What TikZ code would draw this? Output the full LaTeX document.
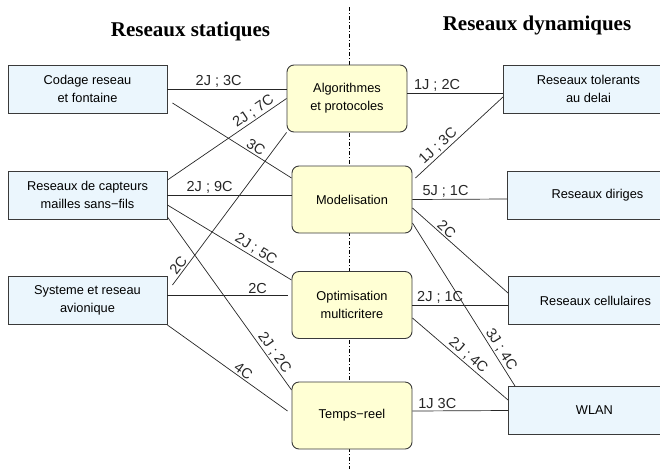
\documentclass[tikz,border=0pt]{standalone}
\usepackage{fontspec}
\setmainfont{Liberation Serif}
\setsansfont{Liberation Sans}
\usepackage{tikz}
\usetikzlibrary{
  positioning,
  calc,
}
\definecolor{netBlue}{HTML}{EBF6FD}
\definecolor{topicYellow}{HTML}{FFFFD4}
\definecolor{frameGray}{HTML}{3A3A3A}

\begin{document}
\begin{tikzpicture}[x=1pt, y=-1pt,
  netbox/.style={draw=frameGray, fill=netBlue, line width=0.9pt,
    minimum width=159pt, minimum height=48pt, inner sep=0pt,
    align=center, font=\sffamily\fontsize{12.8}{18}\selectfont},
  topic/.style={draw=frameGray, fill=topicYellow, line width=0.9pt,
    rounded corners=7pt, minimum width=120pt, minimum height=67pt,
    inner sep=0pt, align=center, font=\sffamily\fontsize{12.8}{18}\selectfont},
  link/.style={black!85, line width=0.7pt},
  lbl/.style={font=\sffamily\fontsize{14.5}{16}\selectfont, inner sep=1.5pt},
  title/.style={font=\bfseries\fontsize{21}{24}\selectfont, anchor=base},
]
  \useasboundingbox (0,0) rectangle (660,469);
  \clip (0,0) rectangle (660,469);

  % separator between the two sides
  \coordinate (sepTop) at (349,7);
  \coordinate (sepBot) at (349,469);
  \draw[line width=0.7pt, dash pattern=on 4pt off 2pt on 1pt off 2pt] (sepTop) -- (sepBot);

  \node[title] (statT) at (190.5,36) {Reseaux statiques};
  \node[title] (dynT) at (537,30) {Reseaux dynamiques};

  % static networks
  \node[netbox] (cod) at (87.5,89) {Codage reseau\\et fontaine};
  \node[netbox] (cap) at (87.5,195) {Reseaux de capteurs\\mailles sans−fils};
  \node[netbox] (sys) at (87.5,300) {Systeme et reseau\\avionique};

  % topics
  \node[topic] (alg) at (347,98.5) {Algorithmes\\et protocoles};
  \node[topic] (mod) at (352,199.5) {Modelisation};
  \node[topic] (opt) at (352,305) {Optimisation\\multicritere};
  \node[topic] (tps) at (352,415.5) {Temps−reel};

  % dynamic networks (cut by the right edge)
  \node[netbox, anchor=west, minimum width=170pt] (tol) at (503,89) {Reseaux tolerants\\au delai};
  \node[netbox, anchor=west, minimum width=180pt] (dir) at (507,195) {Reseaux diriges};
  \node[netbox, anchor=west, minimum width=174pt] (cel) at (508,300.5) {Reseaux cellulaires};
  \node[netbox, anchor=west, minimum width=172pt] (wlan) at (508,410.5) {WLAN};

  % links on the static side
  \draw[link] (cod.east) -- node[lbl, pos=.43, above] {2J ; 3C} ([yshift=9.5pt]alg.west);
  \draw[link] ([xshift=5pt,yshift=-14pt]cod.east) -- node[lbl, pos=.67, sloped, above] {3C} ([yshift=21.5pt]mod.west);
  \draw[link] ([yshift=15pt]cap.east) -- node[lbl, pos=.76, sloped, above] {2J ; 7C} (alg.west);
  \draw[link] (cap.east) -- node[lbl, pos=.34, above] {2J ; 9C} ([yshift=4.5pt]mod.west);
  \draw[link] ([yshift=-10pt]cap.east) -- node[lbl, pos=.68, sloped, above] {2J ; 5C} ([yshift=25pt]opt.west);
  \draw[link] ([yshift=-22pt]cap.east) -- node[lbl, pos=.81, sloped, above] {2J ; 2C} ([yshift=25.5pt]tps.west);
  \draw[link] ([xshift=5pt,yshift=15pt]sys.east) -- node[lbl, pos=.1, sloped, above] {2C} (alg.south west);
  \draw[link] ([yshift=5pt]sys.east) -- node[lbl, pos=.75, above] {2C} ([xshift=-4pt,yshift=10pt]opt.west);
  \draw[link] ([yshift=-25pt]sys.east) -- node[lbl, pos=.6, sloped, above] {4C} ([xshift=-4pt,yshift=4.5pt]tps.west);

  % links on the dynamic side
  \draw[link] ([yshift=5.5pt]alg.east) -- node[lbl, pos=.31, above] {1J ; 2C} ([yshift=-4pt]tol.west);
  \draw[link] ([xshift=3pt,yshift=21.5pt]mod.east) -- node[lbl, pos=.32, sloped, above] {1J ; 3C} ([yshift=-8pt]tol.west);
  \draw[link] (mod.east) -- node[lbl, pos=.35, above] {5J ; 1C} ([yshift=-4pt]dir.west);
  \draw[link] ([yshift=-8.5pt]mod.east) -- node[lbl, pos=.31, sloped, above] {2C} ([yshift=7.5pt]cel.west);
  \draw[link] ([yshift=-23.5pt]mod.east) -- node[lbl, pos=.8, sloped, above] {3J ; 4C} ([xshift=7pt]wlan.north west);
  \draw[link] (opt.east) -- node[lbl, pos=.29, above] {2J ; 1C} ([yshift=-4.5pt]cel.west);
  \draw[link] ([yshift=-13pt]opt.east) -- node[lbl, pos=.53, sloped, above] {2J ; 4C} ([yshift=10.5pt]wlan.west);
  \draw[link] ([yshift=4.5pt]tps.east) -- node[lbl, pos=.26, above] {1J 3C} (wlan.west);
\end{tikzpicture}
\end{document}
